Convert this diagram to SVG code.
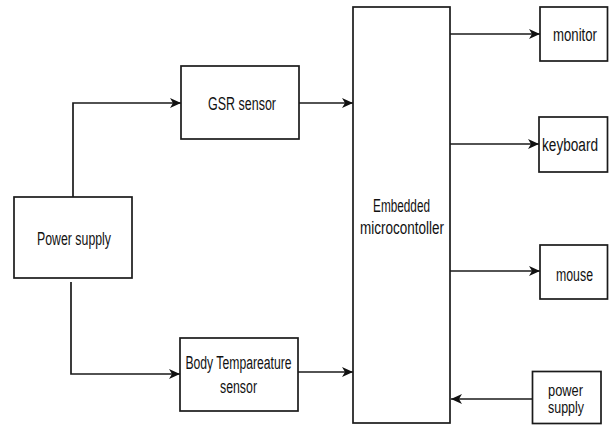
<svg xmlns="http://www.w3.org/2000/svg" width="609" height="426" viewBox="0 0 609 426">
<style>
.box{fill:#fff;stroke:#1a1a1a;stroke-width:1.7}
.lbl{font-family:"Liberation Sans",Arial,sans-serif;font-size:19px;fill:#111;text-anchor:middle}
.sm{font-size:17px}
.con{fill:none;stroke:#1a1a1a;stroke-width:1.7}
</style>
<defs>
<marker id="arr" markerUnits="userSpaceOnUse" markerWidth="12" markerHeight="10" refX="11" refY="5" orient="auto">
<path d="M0,0 L11,5 L0,10 L3,5 z" fill="#111"/>
</marker>
</defs>
<rect width="609" height="426" fill="#fff"/>
<g id="connectors">
<path class="con" d="M73,197 V103 H181" marker-end="url(#arr)"/>
<path class="con" d="M71,282 V374 H180" marker-end="url(#arr)"/>
<path class="con" d="M299,103 H353" marker-end="url(#arr)"/>
<path class="con" d="M298,372 H353" marker-end="url(#arr)"/>
<path class="con" d="M450,34 H540" marker-end="url(#arr)"/>
<path class="con" d="M450,144 H539" marker-end="url(#arr)"/>
<path class="con" d="M450,271 H540" marker-end="url(#arr)"/>
<path class="con" d="M532,399 H451" marker-end="url(#arr)"/>
</g>
<g id="power-supply">
<rect class="box" x="14" y="197" width="118" height="81"/>
<text class="lbl" transform="translate(74,245) scale(0.649,1)">Power supply</text>
</g>
<g id="gsr-sensor">
<rect class="box" x="181" y="66" width="118" height="73"/>
<text class="lbl" transform="translate(242,110) scale(0.657,1)">GSR sensor</text>
</g>
<g id="body-temp-sensor">
<rect class="box" x="180" y="338" width="118" height="73"/>
<text class="lbl" transform="translate(238.5,369) scale(0.642,1)">Body Tempareature</text>
<text class="lbl" transform="translate(238.5,393) scale(0.649,1)">sensor</text>
</g>
<g id="embedded-microcontroller">
<rect class="box" x="353" y="7" width="97" height="416"/>
<text class="lbl" transform="translate(401.5,211.5) scale(0.62,1)">Embedded</text>
<text class="lbl" transform="translate(402,234) scale(0.71,1)">microcontoller</text>
</g>
<g id="monitor">
<rect class="box" x="540" y="7" width="67.5" height="54"/>
<text class="lbl" transform="translate(575,40.5) scale(0.695,1)">monitor</text>
</g>
<g id="keyboard">
<rect class="box" x="539" y="117" width="68.5" height="55"/>
<text class="lbl" transform="translate(570,151) scale(0.717,1)">keyboard</text>
</g>
<g id="mouse">
<rect class="box" x="540" y="245" width="67.5" height="54"/>
<text class="lbl" transform="translate(574.5,281) scale(0.649,1)">mouse</text>
</g>
<g id="power-supply-2">
<rect class="box" x="532.5" y="371.5" width="68.5" height="52"/>
<text class="lbl sm" transform="translate(565.5,395.5) scale(0.756,1)">power</text>
<text class="lbl sm" transform="translate(566,413) scale(0.733,1)">supply</text>
</g>
</svg>
